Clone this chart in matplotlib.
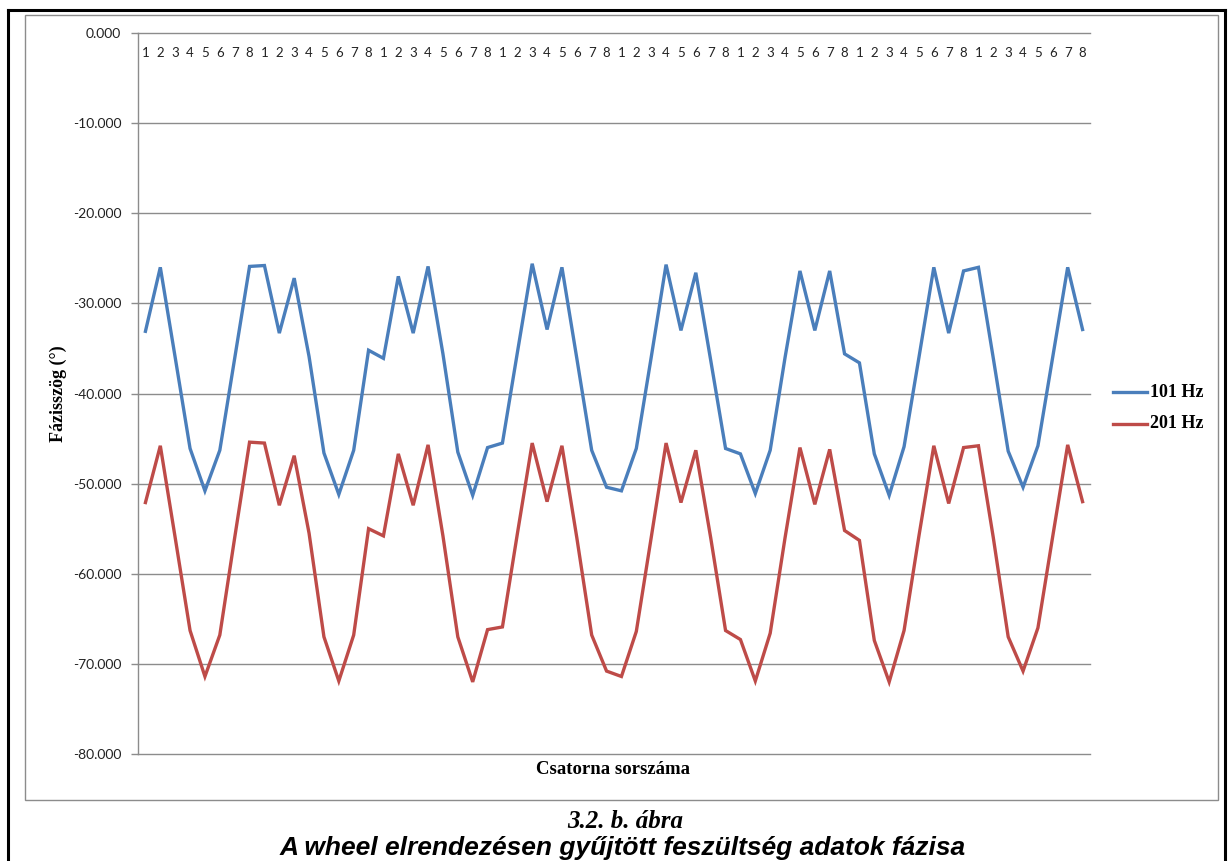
import matplotlib
matplotlib.use("Agg")
import matplotlib.pyplot as plt
from matplotlib.patches import Rectangle
from matplotlib.lines import Line2D

# ================== DATA ==================
channels = [str(k) for k in range(1, 9)] * 8

phase_101 = [
    -33.1, -26.0, -36.0, -46.1, -50.8, -46.3, -36.1, -25.9,
    -25.8, -33.3, -27.2, -35.9, -46.6, -51.2, -46.3, -35.2,
    -36.1, -27.0, -33.3, -25.9, -35.6, -46.5, -51.3, -46.0,
    -45.5, -35.5, -25.6, -32.9, -26.0, -36.1, -46.3, -50.4,
    -50.8, -46.1, -36.0, -25.7, -33.0, -26.6, -36.3, -46.1,
    -46.7, -51.1, -46.3, -36.0, -26.4, -33.0, -26.4, -35.6,
    -36.6, -46.7, -51.3, -45.9, -36.0, -26.0, -33.3, -26.4,
    -26.0, -36.1, -46.4, -50.4, -45.8, -35.9, -26.0, -32.9,
]

phase_201 = [
    -52.1, -45.8, -56.0, -66.3, -71.4, -66.8, -56.0, -45.4,
    -45.5, -52.4, -46.9, -55.5, -67.0, -71.9, -66.8, -55.0,
    -55.8, -46.7, -52.4, -45.7, -55.8, -67.0, -72.0, -66.2,
    -65.9, -55.6, -45.5, -52.0, -45.8, -56.0, -66.8, -70.8,
    -71.4, -66.4, -56.0, -45.5, -52.1, -46.3, -56.0, -66.3,
    -67.3, -71.9, -66.6, -56.0, -46.0, -52.3, -46.2, -55.2,
    -56.3, -67.4, -72.0, -66.3, -55.8, -45.8, -52.2, -46.0,
    -45.8, -56.0, -67.0, -70.8, -66.0, -55.8, -45.7, -52.0,
]

series_names = ["101 Hz", "201 Hz"]
series_colors = ["#4a7ebb", "#be4b48"]
y_ticks = [0, -10, -20, -30, -40, -50, -60, -70, -80]

# ================== FIGURE ==================
W, H = 1230, 861
fig = plt.figure(figsize=(W / 100, H / 100), dpi=100)
fig.patch.set_facecolor("white")

serif = "Liberation Serif"
sans = "Lato"

# outer black frame (open at the bottom, cut by the image edge)
fig.add_artist(Line2D([8 / W, 8 / W], [0, 1 - 10 / H], color="black", lw=2.2,
                      transform=fig.transFigure))
fig.add_artist(Line2D([1225 / W, 1225 / W], [0, 1 - 10 / H], color="black", lw=2.2,
                      transform=fig.transFigure))
fig.add_artist(Line2D([8 / W, 1225 / W], [1 - 10 / H, 1 - 10 / H], color="black", lw=2.2,
                      transform=fig.transFigure))

# gray chart border
fig.add_artist(Rectangle((25 / W, 1 - 800 / H), (1218 - 25) / W, (800 - 15) / H,
                         transform=fig.transFigure, fill=False, ec="#8c8c8c", lw=1.0))

left, right, top, bottom = 138, 1090, 33, 754
ax = fig.add_axes([left / W, 1 - bottom / H, (right - left) / W, (bottom - top) / H])

x = list(range(len(channels)))
ax.plot(x, phase_101, color=series_colors[0], lw=2.4, solid_joinstyle="miter")
ax.plot(x, phase_201, color=series_colors[1], lw=2.4, solid_joinstyle="miter")

ax.set_xlim(-0.5, len(channels) - 0.5)
ax.set_ylim(-80, 0)

ax.set_yticks(y_ticks)
ax.set_yticklabels([f"{v:.3f}".replace("-0.000", "0.000") for v in y_ticks],
                   fontfamily=sans, fontsize=10, color="#222222")
ax.tick_params(axis="y", length=5, width=1, color="#8c8c8c", pad=7)
ax.yaxis.grid(True, color="#8c8c8c", lw=1.0)
for gl in ax.yaxis.get_gridlines():
    gl.set_clip_on(False)
ax.set_axisbelow(True)

# category labels sit just under the 0 line
ax.set_xticks(x)
ax.set_xticklabels(channels, fontfamily=sans, fontsize=9.5, color="#222222")
ax.xaxis.set_ticks_position("top")
ax.tick_params(axis="x", length=0, pad=-19, labeltop=True, labelbottom=False)

for s in ["top", "right", "bottom"]:
    ax.spines[s].set_visible(False)
ax.spines["left"].set_color("#8c8c8c")
ax.spines["left"].set_linewidth(1.0)

ax.set_ylabel("Fázisszög (°)", fontfamily=serif, fontweight="bold", fontsize=13)
ax.yaxis.set_label_coords(-(left - 67) / (right - left), 0.5)
fig.text(613 / W, 1 - 770 / H, "Csatorna sorszáma", fontfamily=serif, fontweight="bold",
         fontsize=13.5, ha="center", va="center")

# legend
for k, name in enumerate(series_names):
    yy = 1 - (392 + 32 * k) / H
    fig.add_artist(Line2D([1113 / W, 1147 / W], [yy, yy], color=series_colors[k], lw=2.4,
                          transform=fig.transFigure))
    fig.text(1150 / W, yy, name, fontfamily=serif, fontweight="bold", fontsize=13,
             ha="left", va="center")

# caption
fig.text(625 / W, 1 - 821 / H, "3.2. b. ábra", fontfamily=serif, fontweight="bold",
         fontstyle="italic", fontsize=18, ha="center", va="center")
fig.text(623 / W, 1 - 848 / H, "A wheel elrendezésen gyűjtött feszültség adatok fázisa",
         fontfamily="Liberation Sans", fontweight="bold", fontstyle="italic", fontsize=19,
         ha="center", va="center")

fig.savefig("out.png", dpi=100)
